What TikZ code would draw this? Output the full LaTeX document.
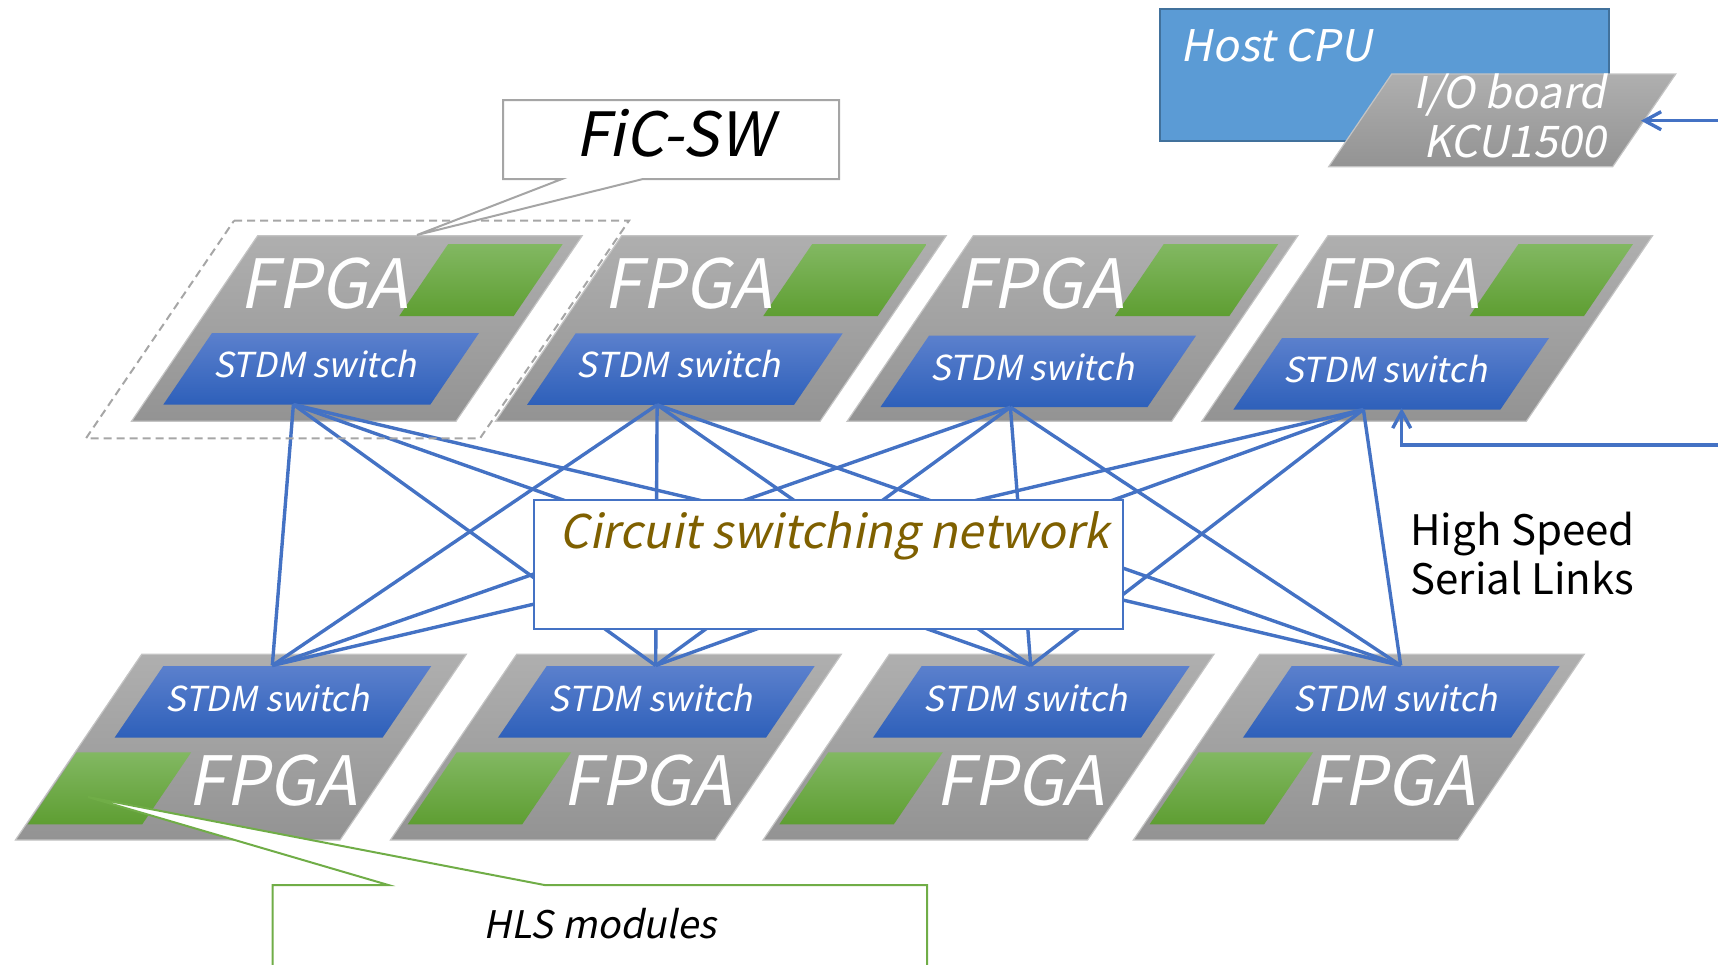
\documentclass[tikz,border=0pt]{standalone}
\usepackage{fontspec}
\setmainfont{Noto Sans CJK JP}
\newfontfamily\slantfont{Noto Sans CJK JP}[FakeSlant=0.2]
\usetikzlibrary{arrows.meta}

\definecolor{slabtop}{HTML}{AFAFAF}
\definecolor{slabbot}{HTML}{939393}
\definecolor{slabedge}{HTML}{C4C4C4}
\definecolor{swtop}{HTML}{5B80CD}
\definecolor{swbot}{HTML}{2E60BA}
\definecolor{hlstop}{HTML}{82B862}
\definecolor{hlsbot}{HTML}{5E9E32}
\definecolor{linkblue}{HTML}{4472C4}
\definecolor{cpufill}{HTML}{5B9BD5}
\definecolor{cpuedge}{HTML}{41719C}
\definecolor{netgold}{HTML}{7F6000}
\definecolor{hlsedge}{HTML}{70AD47}
\definecolor{ficedge}{HTML}{A5A5A5}
\definecolor{dashgray}{HTML}{A6A6A6}

% slanted slab: style, top-left x, top y, width, height
\newcommand\slab[5]{\path[#1] (#2,#3) -- ++(#4,0) -- ++({-0.68*#5},#5) -- ++(-#4,0) -- cycle;}

\begin{document}
\begin{tikzpicture}[x=0.5pt,y=-0.5pt,
  grayslab/.style={top color=slabtop,bottom color=slabbot,draw=slabedge,line width=0.6pt},
  swslab/.style={top color=swtop,bottom color=swbot},
  hlsslab/.style={top color=hlstop,bottom color=hlsbot},
  link/.style={draw=linkblue,line width=1.7pt},
  fpgalbl/.style={text=white,inner sep=0pt,font=\slantfont\fontsize{34}{40}\selectfont},
  swlbl/.style={text=white,inner sep=0pt,font=\slantfont\fontsize{17.2}{21}\selectfont},
  hostlbl/.style={text=white,inner sep=0pt,font=\slantfont\fontsize{21.8}{26}\selectfont},
  plainlbl/.style={text=black,inner sep=0pt,font=\fontsize{21}{25}\selectfont},
]
\useasboundingbox (0,0) rectangle (1718,964);
\clip (0,0) rectangle (1718,964);

% host CPU with its I/O board
\node (cpu) [draw=cpuedge,fill=cpufill,line width=1pt,anchor=north west,
  minimum width=224.75pt,minimum height=66pt,inner sep=0pt] at (1158.5,8) {};
\node (cpulbl) [hostlbl,anchor=base west] at (1180.5,61) {Host CPU};
\slab{grayslab}{1391.7}{74}{284}{92.7}
\node (io1) [hostlbl,anchor=base east] at (1606,108) {I/O board};
\node (io2) [hostlbl,anchor=base east] at (1606,157) {KCU1500};

% upper row of FPGAs
\foreach \ox/\bx/\by/\n in {257.7/212/333/1,621.7/575.7/333.3/2,973.3/929/335.7/3,1328/1282/338/4}{
  \slab{grayslab}{\ox}{235.7}{324.5}{185.6}
  \slab{hlsslab}{\ox+190.5}{244}{114.5}{72}
  \slab{swslab}{\bx}{\by}{267}{71.5}
  \node (tf\n) [fpgalbl,anchor=base] at (\ox+66.3,308.5) {FPGA};
  \node (ts\n) [swlbl,anchor=base] at (\bx+103,\by+44.5) {STDM switch};
  \coordinate (T\n) at (\bx+81.4,\by+71.5);
}

% lower row of FPGAs
\foreach \ox/\bx/\gx/\n in {141.7/163.3/76.7/1,516.7/546.7/456.7/2,889.3/921.7/828.3/3,1259.6/1291.7/1198.6/4}{
  \slab{grayslab}{\ox}{654.3}{324.6}{185.7}
  \slab{swslab}{\bx}{666}{268}{71.7}
  \slab{hlsslab}{\gx}{752.3}{114.5}{72}
  \node (bf\n) [fpgalbl,anchor=base] at (\ox+130.5,805) {FPGA};
  \node (bs\n) [swlbl,anchor=base] at (\bx+104,711) {STDM switch};
  \coordinate (B\n) at (\bx+109,665.5);
}

% high speed serial links: every upper switch to every lower switch
\foreach \t in {1,...,4}{
  \foreach \b in {1,...,4}{
    \draw[link] (T\t) -- (B\b);
  }
}

% circuit switching network box
\node (csnbox) [draw=linkblue,fill=white,line width=1pt,anchor=north west,
  minimum width=294.85pt,minimum height=64.65pt,inner sep=0pt] at (532.7,499) {};
\node (csn) [text=netgold,inner sep=0pt,anchor=base west,
  font=\slantfont\fontsize{23.2}{28}\selectfont] at (559,548) {Circuit switching network};

% external links from the host board
\coordinate (ioin) at (1720,120.7);
\coordinate (iotip) at (1641,120.7);
\draw[link,-{Straight Barb[length=8.3pt,width=9pt]}] (ioin) -- (iotip);
\coordinate (swin) at (1720,445);
\coordinate (swtip) at (1401.7,408);
\draw[link,-{Straight Barb[length=8.3pt,width=9pt]}] (swin) -| (swtip);

\node (hs1) [plainlbl,anchor=base west] at (1410,545) {High Speed};
\node (hs2) [plainlbl,anchor=base west] at (1410,594) {Serial Links};

% FiC-SW board outline and its callout
\draw[draw=dashgray,line width=1pt,dash pattern=on 4pt off 2.5pt]
  (234,220.7) -- (629,220.7) -- (480,438.3) -- (86,438.3) -- cycle;
\coordinate (fictip) at (417,235);
\draw[draw=ficedge,fill=white,line width=1pt]
  (503,100) -- (839,100) -- (839,179) -- (643,179) -- (fictip) -- (562,179) -- (503,179) -- cycle;
\node (fic) [inner sep=0pt,anchor=base,font=\slantfont\fontsize{30.5}{36}\selectfont]
  at (674,156.7) {FiC-SW};

% HLS modules callout
\coordinate (hlstip) at (88,797);
\draw[draw=hlsedge,fill=white,line width=1pt]
  (272.7,1000) -- (272.7,885) -- (388.3,885) -- (hlstip) -- (544.5,885) -- (927,885) -- (927,1000) -- cycle;
\node (hls) [inner sep=0pt,anchor=base,font=\slantfont\fontsize{19}{23}\selectfont]
  at (600,938) {HLS modules};
\end{tikzpicture}
\end{document}
